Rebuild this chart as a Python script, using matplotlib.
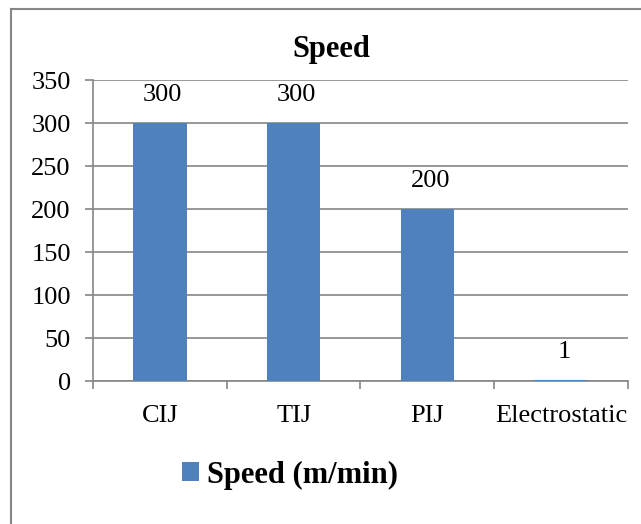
import matplotlib.pyplot as plt
from matplotlib.lines import Line2D
import numpy as np

plt.rcParams['font.family'] = ['Liberation Serif', 'DejaVu Serif']

# printing methods and their speed in m/min
methods = ['CIJ', 'TIJ', 'PIJ', 'Electrostatic']
speed = [300, 300, 200, 1]
series_name = 'Speed (m/min)'

bar_color = '#4F81BD'
grid_color = '#868686'

fig = plt.figure(figsize=(6.41, 5.24), dpi=100)
ax = fig.add_axes([0.1451, 0.2729, 0.8346, 0.5744])

# chart frame: only the left and top edges fall inside the figure
fx, fy = 11 / 641, 1 - 9 / 524
fig.lines.append(Line2D([fx, fx], [0, fy], transform=fig.transFigure,
                        color=grid_color, linewidth=1.5))
fig.lines.append(Line2D([fx, 1], [fy, fy], transform=fig.transFigure,
                        color=grid_color, linewidth=1.5))

index = np.arange(len(methods))
bars = ax.bar(index, speed, 0.4, color=bar_color, label=series_name, zorder=3)

# value labels above each bar
for x, v in zip(index, speed):
    ax.annotate(str(v), (x, v), xytext=(2, 20), textcoords='offset points',
                ha='center', va='center', fontsize=19)

ax.set_xlim(-0.5, len(methods) - 0.5)
ax.set_ylim(0, 350)
ax.set_yticks(np.arange(0, 351, 50))
ax.yaxis.grid(True, color=grid_color, linewidth=1.2)
ax.set_axisbelow(True)

ax.set_xticks(index)
ax.set_xticklabels(methods)
ax.set_xticks(np.arange(-0.5, len(methods), 1), minor=True)
ax.tick_params(axis='x', which='major', length=0, pad=17, labelsize=19)
ax.tick_params(axis='x', which='minor', length=6, width=1.2, color=grid_color, direction='out')
ax.tick_params(axis='y', length=6, width=1.2, color=grid_color, pad=10, labelsize=19)

for side in ['top', 'right']:
    ax.spines[side].set_visible(False)
for side in ['left', 'bottom']:
    ax.spines[side].set_color(grid_color)
    ax.spines[side].set_linewidth(1.2)

fig.text(331 / 641, 1 - 50 / 524, 'Speed', ha='center', va='center',
         fontsize=22, fontweight='bold')

leg = fig.legend(handles=[bars], labels=[series_name], loc='center',
                 bbox_to_anchor=(290 / 641, 1 - 475 / 524), frameon=False,
                 prop={'size': 22, 'weight': 'bold'},
                 handlelength=0.56, handleheight=0.56, handletextpad=0.25)

fig.savefig('out.png', dpi=100)
